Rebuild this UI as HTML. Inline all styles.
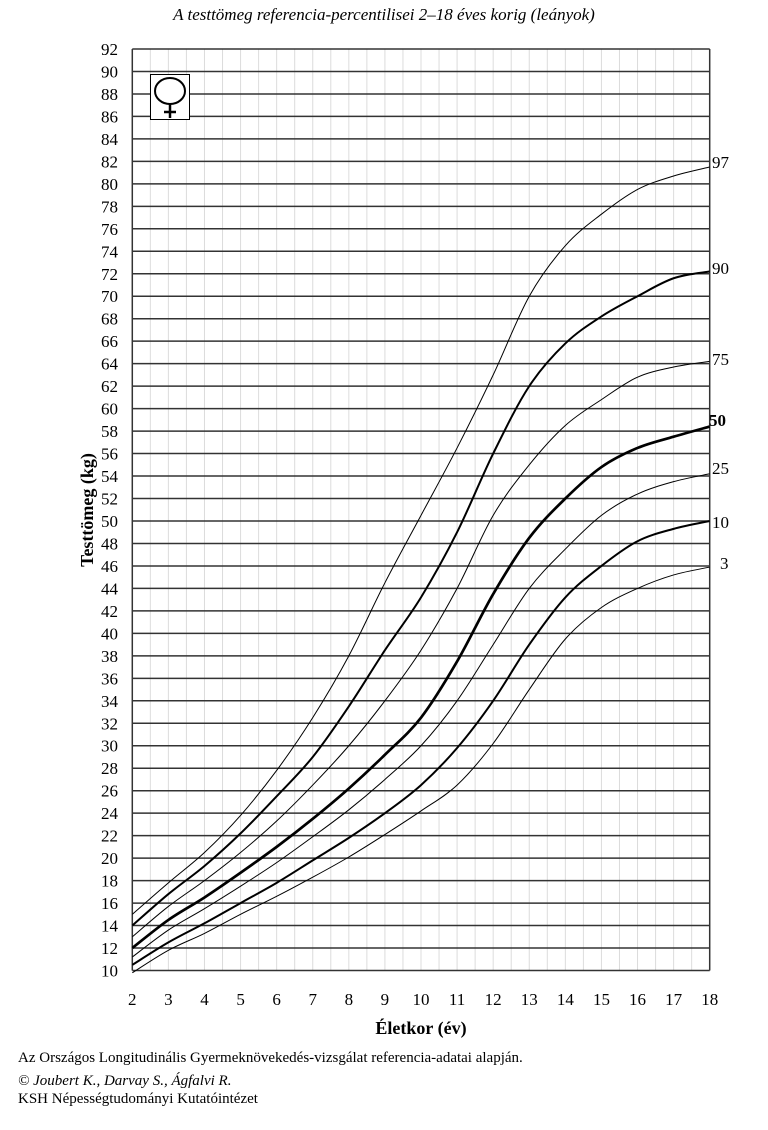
<!DOCTYPE html>
<html><head><meta charset="utf-8"><style>
body{margin:0;background:#fff;}
svg{display:block;font-family:"Liberation Serif",serif;}
</style></head><body>
<svg id="s" width="768" height="1130" xmlns="http://www.w3.org/2000/svg">
<text x="384" y="20" text-anchor="middle" font-size="17" font-style="italic">A testtömeg referencia-percentilisei 2–18 éves korig (leányok)</text>
<g id="grid"></g>
<g id="curves" fill="none" stroke="#000" stroke-linejoin="round"></g>
<rect x="150.5" y="74.5" width="39" height="45" fill="#fff" stroke="#000" stroke-width="1"/>
<ellipse cx="170" cy="91" rx="15" ry="13" fill="none" stroke="#000" stroke-width="2"/>
<line x1="170" y1="104" x2="170" y2="118" stroke="#000" stroke-width="2.5"/>
<line x1="164" y1="112" x2="176" y2="112" stroke="#000" stroke-width="2.5"/>
<g font-size="17">
<text x="712" y="168">97</text>
<text x="712" y="274">90</text>
<text x="712" y="365">75</text>
<text x="709" y="426" font-weight="bold">50</text>
<text x="712" y="474">25</text>
<text x="712" y="528">10</text>
<text x="720" y="569">3</text>
</g>
<text transform="translate(93,510) rotate(-90)" text-anchor="middle" font-size="18" font-weight="bold">Testtömeg (kg)</text>
<text x="421" y="1034" text-anchor="middle" font-size="18" font-weight="bold">Életkor (év)</text>
<g font-size="15">
<text x="18" y="1062">Az Országos Longitudinális Gyermeknövekedés-vizsgálat referencia-adatai alapján.</text>
<text x="18" y="1085" font-style="italic">© Joubert K., Darvay S., Ágfalvi R.</text>
<text x="18" y="1103">KSH Népességtudományi Kutatóintézet</text>
</g>
</svg>
<script>
const NS="http://www.w3.org/2000/svg";
const X0=132.3,X1=709.7,Y92=49,Y10=970.5;
const px=a=>X0+(a-2)*(X1-X0)/16, py=k=>Y10-(k-10)*(Y10-Y92)/82;
const g=document.getElementById('grid'),c=document.getElementById('curves');
function el(p,tag,at,txt){const e=document.createElementNS(NS,tag);for(const k in at)e.setAttribute(k,at[k]);if(txt!=null)e.textContent=txt;p.appendChild(e);return e;}
for(let a=2.5;a<18;a+=0.5){el(g,'line',{x1:px(a),x2:px(a),y1:Y92,y2:Y10,stroke:'#dcdcdc','stroke-width':1});}
for(let k=10;k<=92;k+=2){const y=py(k);el(g,'line',{x1:X0,x2:X1,y1:y,y2:y,stroke:'#333','stroke-width':1.5});
el(g,'text',{x:118,y:y+6,'text-anchor':'end','font-size':17},k);}
el(g,'line',{x1:X0,x2:X0,y1:Y92,y2:Y10,stroke:'#333','stroke-width':1.5});
el(g,'line',{x1:X1,x2:X1,y1:Y92,y2:Y10,stroke:'#333','stroke-width':1.5});
for(let a=2;a<=18;a++){el(g,'text',{x:px(a),y:1005,'text-anchor':'middle','font-size':17},a);}
const D=[
[1,[15,17.8,20.5,23.8,27.8,32.5,38,44.5,50.5,56.5,63,70,74.5,77.3,79.5,80.7,81.5]],
[2,[14,16.8,19.3,22.2,25.5,29,33.5,38.5,43.2,49,56,62,65.8,68.2,70,71.6,72.2]],
[1,[13,15.7,18,20.5,23.3,26.5,30,34,38.5,44,50.5,55,58.5,60.8,62.8,63.7,64.2]],
[2.7,[12,14.5,16.5,18.7,21,23.5,26.2,29.2,32.5,37.5,43.5,48.5,52,54.8,56.5,57.5,58.4]],
[1,[11.2,13.6,15.5,17.5,19.6,21.9,24.3,27,30,34,39,44,47.5,50.5,52.4,53.5,54.2]],
[2,[10.5,12.5,14.2,16,17.8,19.8,21.8,24,26.5,29.8,34,39,43.2,46,48.2,49.3,50]],
[1,[9.8,11.8,13.3,15,16.6,18.3,20.1,22.1,24.2,26.5,30.2,35,39.5,42.3,44,45.2,45.9]]];
for(const [w,v] of D){const P=v.map((k,i)=>[px(2+i),py(k)]);let d='M'+P[0];
for(let i=0;i<P.length-1;i++){const p0=P[Math.max(0,i-1)],p1=P[i],p2=P[i+1],p3=P[Math.min(P.length-1,i+2)];
const c1=[p1[0]+(p2[0]-p0[0])/6,p1[1]+(p2[1]-p0[1])/6],c2=[p2[0]-(p3[0]-p1[0])/6,p2[1]-(p3[1]-p1[1])/6];
d+=' C'+c1+' '+c2+' '+p2;}
el(c,'path',{d:d,'stroke-width':w});}
</script>
</body></html>
